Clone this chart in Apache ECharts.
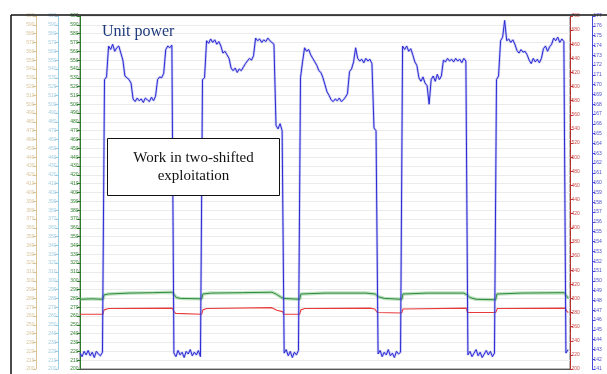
<!DOCTYPE html>
<html>
<head>
<meta charset="utf-8">
<script src="https://cdn.jsdelivr.net/npm/echarts@6/dist/echarts.min.js"></script>
<style>html,body{margin:0;padding:0;background:#fff;}#c{width:607px;height:374px;}</style>
</head>
<body>
<div id="c"></div>
<script>
// ---- data (time in hours, values in left-axis units) ----
const sampleStepHours = 0.5;
const unitPower = [
218,214,220,216,221,215,219,213,220,217,215,219,
528,531,566,562,568,560,564,566,558,550,532,530,528,524,506,503,507,504,506,502,507,505,503,508,504,509,528,531,530,535,562,566,564,567,
218,214,221,216,219,213,220,217,222,215,219,216,221,214,
528,530,572,569,574,570,573,568,571,566,558,560,556,552,541,538,541,536,540,538,542,546,549,552,550,555,575,572,574,570,573,571,575,572,570,568,476,472,478,470,
218,222,215,220,213,219,216,221,
530,548,564,560,562,556,552,548,544,538,536,530,522,514,510,505,503,506,504,507,503,505,508,512,537,540,548,564,552,549,551,547,552,549,551,546,473,470,
217,221,214,219,216,222,215,218,213,220,217,219,
566,562,566,560,563,556,548,544,530,526,531,524,521,500,528,532,526,534,528,532,550,548,552,549,551,548,552,549,551,547,552,549,
216,220,214,218,222,215,219,213,217,221,216,220,214,218,
528,532,572,576,595,572,574,570,573,568,561,558,562,559,560,556,550,546,552,548,551,547,552,563,566,560,565,568,575,572,576,570,574,571,
218,222
];
const greenLine = [
[0,279],[3,279.5],[5.6,279],[5.9,284],[7,285],[12,286],[18,286.5],[22.6,287],[23.1,284],[23.6,281],[24.6,280],[29.8,279.5],
[30.1,285],[32,286],[40,286.5],[47,287],[48,285],[49,282],[49.8,280],[53.8,279],
[54.1,285],[60,286],[70,286],[72.3,285],[73,282],[74.5,280],[78.8,279],
[79.1,285],[85,286],[94,286],[94.8,284],[95.5,281],[97,279],[101.8,278.5],
[102.1,285],[108,286],[118.6,286.5],[119.1,283],[119.6,280]
];
const redLine = [
[0,262],[5.6,262],[5.9,267],[7,268.5],[22.6,269],[22.9,266],[23.4,263],[29.8,262],
[30.1,267],[31,268.5],[47,269.5],[47.6,268],[48.2,266.5],[49.6,265],[49.9,262],[53.8,262],
[54.1,267],[55,268.5],[71,269],[72.2,268],[72.8,264],[78.8,263.5],
[79.1,268],[94.6,269],[94.9,264],[101.8,264],
[102.2,268.5],[118.8,269],[119.3,265],[119.6,264]
];
const timeRange = [0, 120];
const leftRange = [200, 600, 10];
const redRange = [200, 700, 20];
const blueRange = [141, 177, 1];
const titleText = 'Unit power';
const noteText = 'Work in two-shifted\nexploitation';

const bluePairs = unitPower.map((v, i) => [i * sampleStepHours, v]);

function yAx(pos, offset, range, lineColor, labelColor, split) {
  return {
    type: 'value', position: pos, offset: offset,
    min: range[0], max: range[1], interval: range[2],
    axisLine: { show: true, lineStyle: { color: lineColor, width: 1 } },
    axisTick: { show: true, length: 3, lineStyle: { color: lineColor } },
    axisLabel: { show: true, fontSize: 5, margin: 1.5, color: labelColor, fontFamily: 'Liberation Sans' },
    splitLine: { show: !!split, lineStyle: { color: '#ebebeb', width: 1 } }
  };
}

const chart = echarts.init(document.getElementById('c'), null, { renderer: 'canvas' });
chart.setOption({
  animation: false,
  backgroundColor: '#fff',
  grid: { left: 80, right: 37, top: 16, bottom: 5, show: true, borderColor: '#777', borderWidth: 1, backgroundColor: '#fff' },
  xAxis: {
    type: 'value', min: timeRange[0], max: timeRange[1],
    axisLine: { show: true, lineStyle: { color: '#555' } },
    axisTick: { show: false }, axisLabel: { show: false }, splitLine: { show: false }
  },
  yAxis: [
    yAx('left', 0, leftRange, '#2a7a2a', '#2f7f2f', true),
    yAx('left', 22, leftRange, '#9ccbe0', '#a3cde0', false),
    yAx('left', 44, leftRange, '#d9c394', '#d8c49c', false),
    yAx('right', 0, redRange, '#b83030', '#d04848', false),
    yAx('right', 22, blueRange, '#4848d8', '#4c4cd0', false)
  ],
  title: {
    text: titleText, left: 97, top: 19,
    textStyle: { fontFamily: 'Liberation Serif', fontSize: 16, fontWeight: 'normal', color: '#1f3a7c' }
  },
  graphic: [
    { type: 'line', shape: { x1: 11, y1: 15, x2: 607, y2: 15 }, style: { stroke: '#111', lineWidth: 1.5 }, z: 100 },
    { type: 'line', shape: { x1: 11, y1: 15, x2: 11, y2: 374 }, style: { stroke: '#111', lineWidth: 1.5 }, z: 100 },
    { type: 'rect', shape: { x: 107.5, y: 138.5, width: 172, height: 57 }, style: { fill: '#fff', stroke: '#111', lineWidth: 1 }, z: 100 },
    { type: 'text', x: 193.5, y: 167, style: { text: noteText, fill: '#111', font: '15px "Liberation Serif"', textAlign: 'center', textVerticalAlign: 'middle', lineHeight: 18 }, z: 101 }
  ],
  series: [
    { type: 'line', data: greenLine, yAxisIndex: 0, showSymbol: false, lineStyle: { color: 'rgba(110,190,120,0.45)', width: 3.5 }, z: 2 },
    { type: 'line', data: greenLine, yAxisIndex: 0, showSymbol: false, lineStyle: { color: '#2f8a3a', width: 1 }, z: 3 },
    { type: 'line', data: redLine, yAxisIndex: 0, showSymbol: false, lineStyle: { color: '#e83a3a', width: 1.1 }, z: 3 },
    { type: 'line', data: bluePairs, yAxisIndex: 0, showSymbol: false, lineStyle: { color: 'rgba(110,110,230,0.35)', width: 2.5 }, z: 4 },
    { type: 'line', data: bluePairs, yAxisIndex: 0, showSymbol: false, lineStyle: { color: '#2a2ad4', width: 1 }, z: 5 }
  ]
});
</script>
</body>
</html>
